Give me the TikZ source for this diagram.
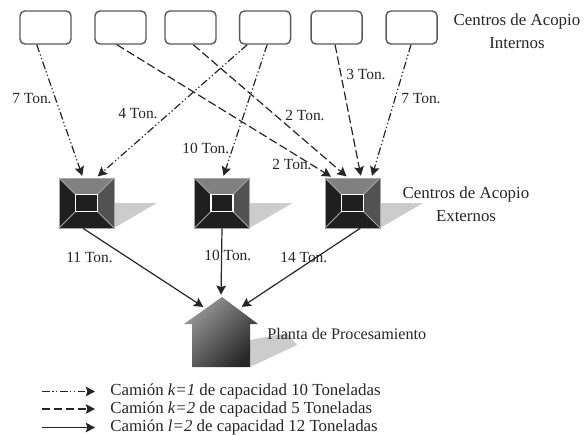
\documentclass[tikz,border=0pt]{standalone}
\usepackage{fontspec}
\setmainfont{Liberation Serif}
\usetikzlibrary{arrows.meta}

\newcommand{\acopio}[2]{
	\begin{scope}[shift={(#2)}]
		\fill[sombra] (27.5,0) -- (70.5,0) -- (27.5,25) -- cycle;
		\node[externo] (#1) at (0,0) {};
		\fill[black!50] (-27.5,-25) -- (27.5,-25) -- (11,-8.5) -- (-11,-8.5) -- cycle;
		\fill[black!68] (27.5,-25) -- (27.5,25) -- (11,8.5) -- (11,-8.5) -- cycle;
		\draw[arista] (-27.5,-25) -- (-11,-8.5);
		\draw[arista] (27.5,-25) -- (11,-8.5);
		\draw[arista] (-27.5,25) -- (-11,8.5);
		\draw[arista] (27.5,25) -- (11,8.5);
		\draw[arista] (-27.5,-25) rectangle (27.5,25);
		\draw[white,fill=black!88,line width=0.03cm] (-11,-8.5) rectangle (11,8.5);
	\end{scope}
}

\tikzset{
	centro/.style={
		rectangle,
		draw=black!65,
		line width=0.035cm,
		rounded corners=0.12cm,
		minimum height=0.825cm,
		minimum width=1.275cm,
		inner sep=0
	},
	externo/.style={
		rectangle,
		fill=black!88,
		minimum height=1.25cm,
		minimum width=1.375cm,
		inner sep=0
	},
	sombra/.style={fill=black!20},
	arista/.style={draw=black!35,line width=0.025cm},
	etiqueta/.style={anchor=west,inner sep=0,text=black!85,font=\fontsize{11}{12}\selectfont},
	leyenda/.style={anchor=west,inner sep=0,text=black!85,font=\fontsize{12}{14}\selectfont},
	titulo/.style={align=center,inner sep=0,text=black!85,font=\fontsize{12}{16}\selectfont},
	flecha/.style={-{Stealth[length=0.23cm,width=0.24cm,inset=0.04cm]},draw=black!85,line width=0.03cm,shorten >=0.05cm},
	punto/.style={flecha,dash pattern=on 5.5pt off 1.8pt on 0.9pt off 1.8pt on 0.9pt off 1.8pt},
	raya/.style={flecha,dash pattern=on 6pt off 2.5pt},
	solida/.style={flecha}
}

\begin{document}
\begin{tikzpicture}[x=0.025cm,y=-0.025cm]
	\useasboundingbox (0,0) rectangle (584,434);

	\node[centro] at (45.5,27.5) (a1) {};
	\node[centro,right of=a1, node distance=1.875cm] (a2) {};
	\node[centro,right of=a2, node distance=1.75cm] (a3) {};
	\node[centro,right of=a3, node distance=1.8625cm] (a4) {};
	\node[centro,right of=a4, node distance=1.7875cm] (a5) {};
	\node[centro,right of=a5, node distance=1.875cm] (a6) {};

	\acopio{c1}{86.5,203}
	\acopio{c2}{222,203}
	\acopio{c3}{352.5,203}

	%planta
	\fill[sombra] (250,340) -- (287,333) -- (297,345) -- (250,367) -- cycle;
	\shade[left color=black!40,right color=black!85,shading angle=45]
		(222,297) -- (258,324) -- (250,324) -- (250,367) -- (192,367) -- (192,324) -- (184,324) -- cycle;
	\node[minimum width=1.85cm,minimum height=1.75cm,inner sep=0] at (221,332) (p) {};
	\coordinate (p1) at (205,308);
	\coordinate (p2) at (240,308);

	\draw[punto] (a1.243) -- (c1.98);
	\draw[punto] (a4.224) -- (c1.69);
	\draw[punto] (a4.277) -- (c2.88);
	\draw[raya] (a2.258) -- (c3.128);
	\draw[raya] (a3.279) -- (c3.100);
	\draw[raya] (a5.265) -- (c3.71);
	\draw[punto] (a6.268) -- (c3.53);

	\draw[solida] (c1.262) -- (p1);
	\draw[solida] (c2.south) -- (p.north);
	\draw[solida] (c3.287) -- (p2);

	%labels
	\node[etiqueta] at (12,99) (t1) {7 Ton.};
	\node[etiqueta] at (118,114) (t2) {4 Ton.};
	\node[etiqueta] at (182,148) (t3) {10 Ton.};
	\node[etiqueta] at (285,115) (t4) {2 Ton.};
	\node[etiqueta] at (272,164) (t5) {2 Ton.};
	\node[etiqueta] at (346,74) (t6) {3 Ton.};
	\node[etiqueta] at (401,99) (t7) {7 Ton.};
	\node[etiqueta] at (66,257) (t8) {11 Ton.};
	\node[etiqueta] at (204,255) (t9) {10 Ton.};
	\node[etiqueta] at (280,257) (t10) {14 Ton.};

	\node[titulo] at (517,31) (n1) {Centros de Acopio\\Internos};
	\node[titulo] at (466,204) (n2) {Centros de Acopio\\Externos};
	\node[etiqueta,font=\fontsize{11.5}{14}\selectfont] at (267,334) (n3) {Planta de Procesamiento};

	%legend
	\node[leyenda] at (110,391.5) (l1) {Camión \textit{k=1} de capacidad 10 Toneladas};
	\node[leyenda] at (110,409) (l2) {Camión \textit{k=2} de capacidad 5 Toneladas};
	\node[leyenda] at (110,427.5) (l3) {Camión \textit{l=2} de capacidad 12 Toneladas};
	\coordinate (s1) at (42,391.5);
	\coordinate (s2) at (42,409);
	\coordinate (s3) at (42,427.5);
	\draw[punto,shorten >=0.375cm] (s1) -- (l1.west);
	\draw[raya,shorten >=0.375cm] (s2) -- (l2.west);
	\draw[solida,shorten >=0.375cm] (s3) -- (l3.west);
\end{tikzpicture}
\end{document}
